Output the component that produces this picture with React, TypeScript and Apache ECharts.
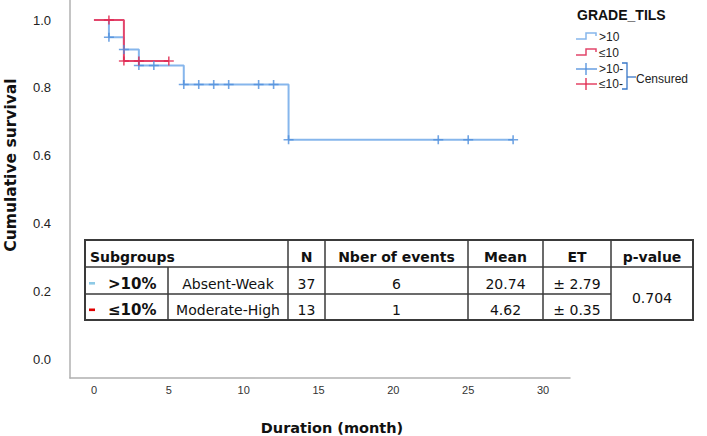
import React, { useEffect, useRef } from "react";
import * as echarts from "echarts";

// ---- data ----
const xTickValues = [0, 5, 10, 15, 20, 25, 30];
const yTickValues = [0, 0.2, 0.4, 0.6, 0.8, 1.0];

const blueEventTimes = [0, 1, 2, 3, 6, 13];
const blueSurvival = [1, 0.949, 0.913, 0.866, 0.81, 0.647];
const blueEndTime = 28;
const blueCensorTimes = [1, 2, 3, 4, 6, 7, 8, 9, 11, 12, 13, 23, 25, 28];

const redEventTimes = [0, 2];
const redSurvival = [1, 0.879];
const redEndTime = 5;
const redCensorTimes = [1, 2, 3, 5];

const legendTitle = "GRADE_TILS";
const legendLabels = [">10", "≤10", ">10-", "≤10-"];
const censoredLabel = "Censured";

const xAxisTitle = "Duration (month)";
const yAxisTitle = "Cumulative survival";

const tableHeaders = ["Subgroups", "N", "Nber of events", "Mean", "ET", "p-value"];
const subgroupLabels = [">10%", "≤10%"];
const subgroupGrades = ["Absent-Weak", "Moderate-High"];
const groupN = ["37", "13"];
const groupEvents = ["6", "1"];
const groupMeans = ["20.74", "4.62"];
const groupET = ["± 2.79", "± 0.35"];
const pValue = "0.704";

// ---- helpers ----
function stepData(times: number[], surv: number[], end: number) {
  const d: number[][] = times.map((t, i) => [t, surv[i]]);
  d.push([end, surv[surv.length - 1]]);
  return d;
}
function survAt(times: number[], surv: number[], t: number) {
  let s = surv[0];
  for (let i = 0; i < times.length; i++) if (times[i] <= t) s = surv[i];
  return s;
}

const BLUE_LINE = "#86b6ec";
const BLUE_MARK = "#4f8fdc";
const RED_LINE = "#e2456b";
const RED_MARK = "#e0264d";
const CROSS = "path://M0,4.2h10v1.6h-10z M4.2,0h1.6v10h-1.6z";

export default function App() {
  const ref = useRef<HTMLDivElement>(null);
  useEffect(() => {
    document.body.style.margin = "0";
    const chart = echarts.init(ref.current!, null, { renderer: "svg" });

    const tFont = "DejaVu Sans";
    const C = { x0: 85, c1: 168, c2: 288, c3: 325, c4: 468, c5: 543, c6: 611, x7: 693 };
    const R = { y0: 240, y1: 267, y2: 294, y3: 320 };
    const lineStyle = { stroke: "#3a3a3a", lineWidth: 1.5 };
    const hl = (x1: number, x2: number, y: number) => ({ type: "line", shape: { x1, y1: y, x2, y2: y }, style: lineStyle, z: 10 });
    const vl = (x: number, y1: number, y2: number) => ({ type: "line", shape: { x1: x, y1, x2: x, y2 }, style: lineStyle, z: 10 });
    const txt = (text: string, x: number, y: number, opts: any = {}) => ({
      type: "text",
      x,
      y,
      z: 11,
      style: {
        text,
        fill: opts.fill || "#111",
        font: `${opts.bold ? "bold " : ""}${opts.size || 14}px "${opts.family || tFont}"`,
        align: opts.align || "center",
        verticalAlign: "middle",
      },
    });

    const rowY = [283.5, 310];
    const headerY = 257;
    const colCenters = [0, (C.c2 + C.c3) / 2, (C.c3 + C.c4) / 2, (C.c4 + C.c5) / 2, (C.c5 + C.c6) / 2, (C.c6 + C.x7) / 2];

    const table: any[] = [
      { type: "rect", shape: { x: C.x0, y: R.y0, width: C.x7 - C.x0, height: R.y3 - R.y0 }, style: { fill: "#fff", stroke: "#3a3a3a", lineWidth: 2 }, z: 9 },
      hl(C.x0, C.x7, R.y1),
      hl(C.x0, C.c6, R.y2),
      vl(C.c1, R.y1, R.y3),
      vl(C.c2, R.y0, R.y3),
      vl(C.c3, R.y0, R.y3),
      vl(C.c4, R.y0, R.y3),
      vl(C.c5, R.y0, R.y3),
      vl(C.c6, R.y0, R.y3),
      txt(tableHeaders[0], 90, headerY, { bold: true, align: "left" }),
    ];
    for (let i = 1; i < tableHeaders.length; i++) table.push(txt(tableHeaders[i], colCenters[i], headerY, { bold: true }));
    const dashColors = ["#8ecae6", "#e00000"];
    for (let r = 0; r < 2; r++) {
      const y = rowY[r];
      table.push({ type: "rect", shape: { x: 89, y: y - 1.5, width: 6, height: 2.6 }, style: { fill: dashColors[r] }, z: 11 });
      table.push(txt(subgroupLabels[r], 108, y, { bold: true, size: 15, align: "left" }));
      table.push(txt(subgroupGrades[r], (C.c1 + C.c2) / 2, y));
      table.push(txt(groupN[r], colCenters[1], y));
      table.push(txt(groupEvents[r], colCenters[2], y));
      table.push(txt(groupMeans[r], colCenters[3], y));
      table.push(txt(groupET[r], colCenters[4], y));
    }
    table.push(txt(pValue, colCenters[5], 297.5));

    // legend
    const lf = "Liberation Sans";
    const legend: any[] = [
      txt(legendTitle, 577, 15, { bold: true, size: 14, family: lf, align: "left" }),
    ];
    const legY = [37, 53, 69, 84];
    const legColors = [BLUE_LINE, RED_LINE, BLUE_MARK, RED_MARK];
    for (let i = 0; i < 4; i++) {
      const y = legY[i];
      if (i < 2) {
        legend.push({
          type: "polyline",
          shape: { points: [[576, y + 2], [586, y + 2], [586, y - 4], [596, y - 4], [596, y - 1]] },
          style: { stroke: legColors[i], lineWidth: 1.5, fill: "none" },
        });
      } else {
        legend.push({ type: "line", shape: { x1: 576, y1: y, x2: 597, y2: y }, style: { stroke: legColors[i], lineWidth: 1.3 } });
        legend.push({ type: "line", shape: { x1: 586, y1: y - 6, x2: 586, y2: y + 6 }, style: { stroke: legColors[i], lineWidth: 1.3 } });
      }
      legend.push(txt(legendLabels[i], 599, y, { size: 12, family: lf, align: "left", fill: "#222" }));
    }
    legend.push({
      type: "polyline",
      shape: { points: [[622, 63], [627, 63], [627, 89], [622, 89]] },
      style: { stroke: "#3a78c8", lineWidth: 1.3, fill: "none" },
    });
    legend.push({ type: "line", shape: { x1: 627, y1: 77, x2: 636, y2: 77 }, style: { stroke: "#3a78c8", lineWidth: 1.3 } });
    legend.push(txt(censoredLabel, 636, 79, { size: 12, family: lf, align: "left", fill: "#222" }));

    const titles: any[] = [
      txt(xAxisTitle, 332, 428, { bold: true, size: 14.5 }),
      { type: "text", x: 11, y: 165, rotation: Math.PI / 2, style: { text: yAxisTitle, fill: "#111", font: `bold 15.5px "${tFont}"`, align: "center", verticalAlign: "middle" } },
    ];

    chart.setOption({
      animation: false,
      backgroundColor: "#ffffff",
      grid: { left: 70, top: 0, right: 137, bottom: 58, containLabel: false },
      xAxis: {
        type: "value",
        min: -1.6,
        max: 31.8,
        axisLine: { show: true, onZero: false, lineStyle: { color: "#b0b0b0", width: 1.5 } },
        axisTick: { show: false },
        splitLine: { show: false },
        axisLabel: { customValues: xTickValues, color: "#333", fontSize: 11, fontFamily: "Liberation Sans", margin: 6 },
      },
      yAxis: {
        type: "value",
        min: -0.056,
        max: 1.059,
        axisLine: { show: true, onZero: false, lineStyle: { color: "#b0b0b0", width: 1.5 } },
        axisTick: { show: false },
        splitLine: { show: false },
        axisLabel: { customValues: yTickValues, color: "#222", fontSize: 13, fontFamily: "Liberation Sans", margin: 19, formatter: (v: number) => v.toFixed(1) },
      },
      series: [
        { type: "line", step: "end", data: stepData(blueEventTimes, blueSurvival, blueEndTime), showSymbol: false, lineStyle: { color: BLUE_LINE, width: 2 }, z: 2 },
        { type: "line", step: "end", data: stepData(redEventTimes, redSurvival, redEndTime), showSymbol: false, lineStyle: { color: RED_LINE, width: 2 }, z: 3 },
        { type: "scatter", data: blueCensorTimes.map((t) => [t, survAt(blueEventTimes, blueSurvival, t)]), symbol: CROSS, symbolSize: [10, 9], itemStyle: { color: BLUE_MARK }, z: 4 },
        { type: "scatter", data: redCensorTimes.map((t) => [t, survAt(redEventTimes, redSurvival, t)]), symbol: CROSS, symbolSize: [10, 9], itemStyle: { color: RED_MARK }, z: 5 },
      ],
      graphic: [...table, ...legend, ...titles],
    });
    return () => chart.dispose();
  }, []);
  return <div ref={ref} style={{ width: 707, height: 436 }} />;
}
